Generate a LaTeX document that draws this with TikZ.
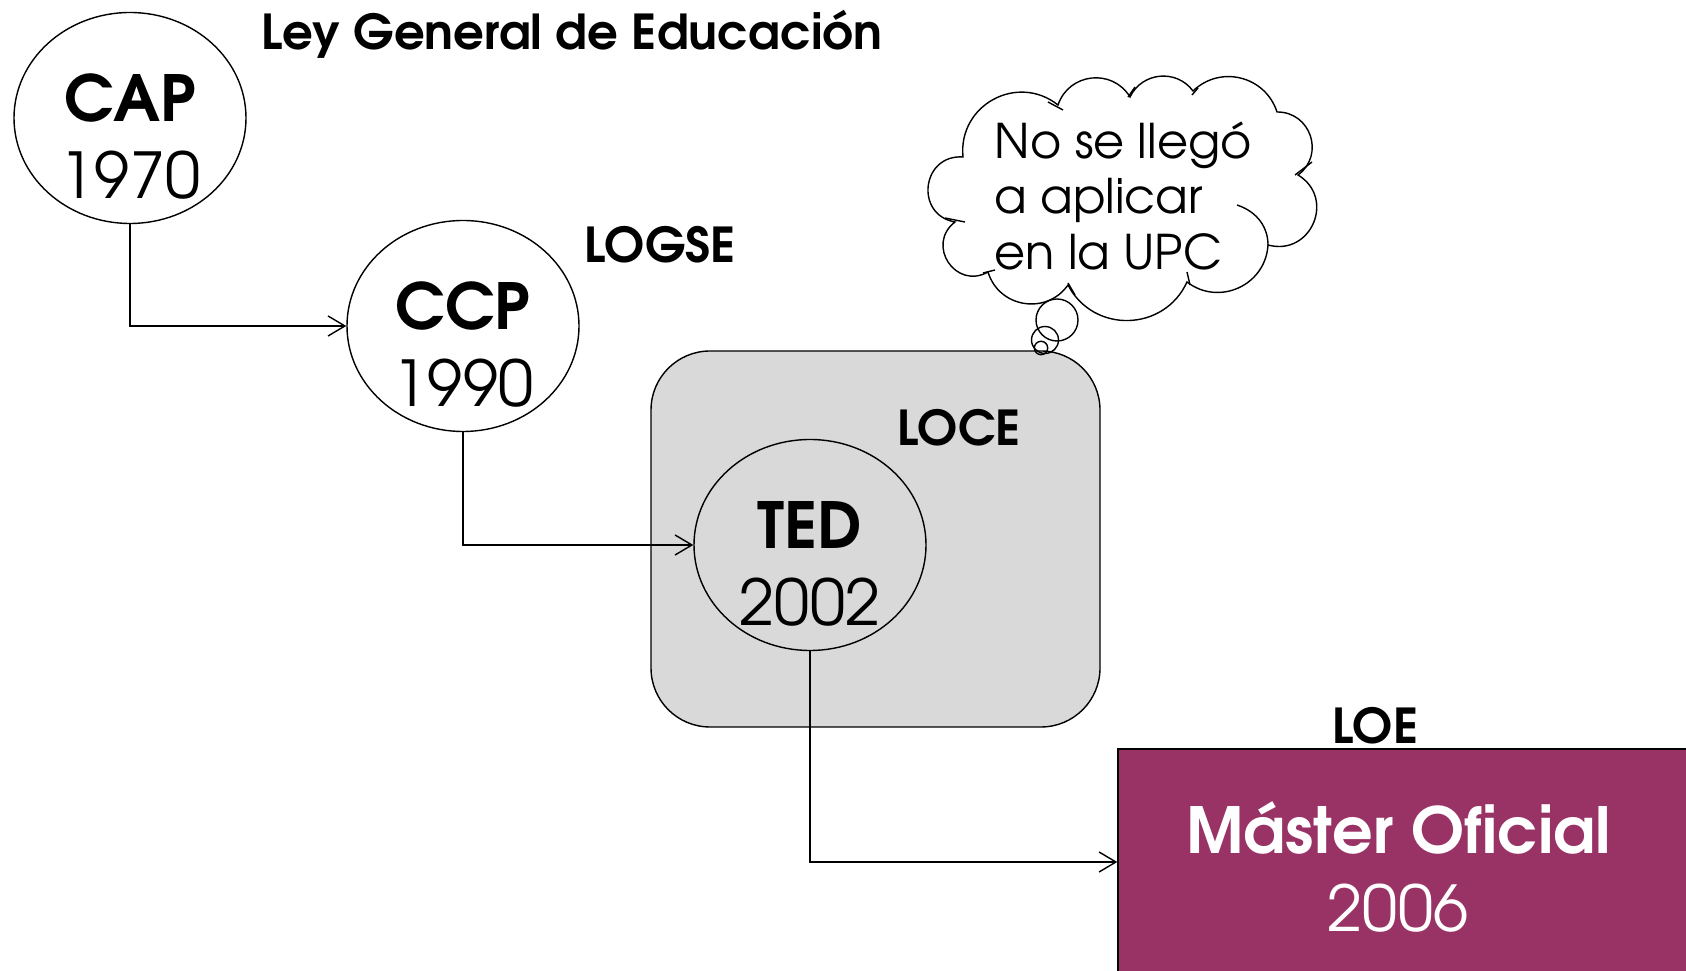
\documentclass[tikz,border=0pt]{standalone}
\usepackage{fontspec}
\setmainfont{texgyreadventor}[Extension=.otf, UprightFont=*-regular, BoldFont=*-bold]
\usetikzlibrary{shapes.geometric, arrows.meta}
\definecolor{grisloce}{HTML}{D9D9D9}
\definecolor{granate}{HTML}{993366}

\begin{document}
\begin{tikzpicture}[
        elipse/.style = {draw, ellipse, fill = white, minimum width = 2.32cm, minimum height = 2.11cm, inner sep = 0pt},
        sigla/.style = {font = \bfseries\fontsize{18.1}{20}\selectfont, inner sep = 0pt, anchor = base},
        anyo/.style = {font = \fontsize{18}{20}\selectfont, inner sep = 0pt, anchor = base},
        ley/.style = {font = \bfseries\fontsize{13.7}{15}\selectfont, inner sep = 0pt, anchor = base west},
        flecha/.style = {-{Straight Barb[length = 4.8pt, width = 5.7pt]}}
    ]
    \useasboundingbox (0, 0) rectangle (16.86, 9.70);

    \node [draw, rounded corners = 0.59cm, fill = grisloce, minimum width = 4.49cm, minimum height = 3.76cm] (loce) at (8.755, 4.31) {};
    \node [draw, fill = granate, minimum width = 5.8cm, minimum height = 2.26cm] (master) at (14.08, 1.08) {};

    \node [elipse] (cap) at (1.30, 8.52) {};
    \node [elipse] (ccp) at (4.63, 6.44) {};
    \node [elipse, fill = none] (ted) at (8.10, 4.25) {};

    \node [sigla] (capt) at ([yshift = -0.04cm] cap.center) {CAP};
    \node [anyo] (capy) at ([yshift = -0.81cm] cap.center) {1970};
    \node [sigla] (ccpt) at ([yshift = -0.04cm] ccp.center) {CCP};
    \node [anyo] (ccpy) at ([yshift = -0.81cm] ccp.center) {1990};
    \node [sigla] (tedt) at ([yshift = -0.04cm] ted.center) {TED};
    \node [anyo] (tedy) at ([yshift = -0.81cm] ted.center) {2002};
    \node [sigla, text = white] (mastert) at (13.985, 1.16) {Máster Oficial};
    \node [anyo, text = white] (mastery) at (13.98, 0.39) {2006};

    \node [ley] (lge) at (2.61, 9.20) {Ley General de Educación};
    \node [ley] (logse) at (5.84, 7.07) {LOGSE};
    \node [ley] (locel) at (8.97, 5.24) {LOCE};
    \node [ley] (loe) at (13.32, 2.26) {LOE};

    % nube
    \draw (9.63, 8.13) to [bend left = 67, looseness = 1.23] (10.58, 8.65)
        to [bend left = 65, looseness = 1.2] (11.30, 8.73)
        to [bend left = 59, looseness = 1.12] (11.93, 8.79)
        to [bend left = 58, looseness = 1.12] (12.77, 8.58)
        to [bend left = 72, looseness = 1.3] (12.98, 7.95)
        to [bend left = 82, looseness = 1.5] (12.68, 7.25)
        to [bend left = 62, looseness = 1.16] (11.87, 6.88)
        to [bend left = 64, looseness = 1.18] (10.68, 6.85)
        to [bend left = 64, looseness = 1.18] (9.88, 6.98)
        to [bend left = 86, looseness = 1.59] (9.55, 7.48)
        to [bend left = 87, looseness = 1.62] cycle;
    \draw (12.37, 7.65) .. controls (12.58, 7.58) and (12.68, 7.42) .. (12.68, 7.25);
    \draw (9.45, 7.52) -- (9.65, 7.48);
    \draw (10.48, 8.68) -- (10.63, 8.60);
    \draw (12.95, 7.95) -- (13.12, 8.08);
    \draw (11.28, 8.73) -- (11.35, 8.83);
    \draw (11.92, 8.75) -- (11.98, 8.82);
    \draw (10.68, 6.87) -- (10.75, 6.75);
    \draw (11.87, 6.98) -- (11.90, 6.85);
    \draw (9.83, 6.97) -- (9.95, 7.00);
    \draw (10.57, 6.50) circle (0.21);
    \draw (10.45, 6.30) circle (0.135);
    \draw (10.41, 6.22) circle (0.067);
    \node [font = \fontsize{13.6}{15.8}\selectfont, align = left, anchor = west, inner sep = 0pt] (nota) at (9.94, 7.74) {No se llegó\\a aplicar\\en la UPC};

    \draw [flecha] (cap.south) |- (ccp.west);
    \draw [flecha] (ccp.south) |- (ted.west);
    \draw [flecha] (ted.south) |- (master.west);
\end{tikzpicture}
\end{document}
